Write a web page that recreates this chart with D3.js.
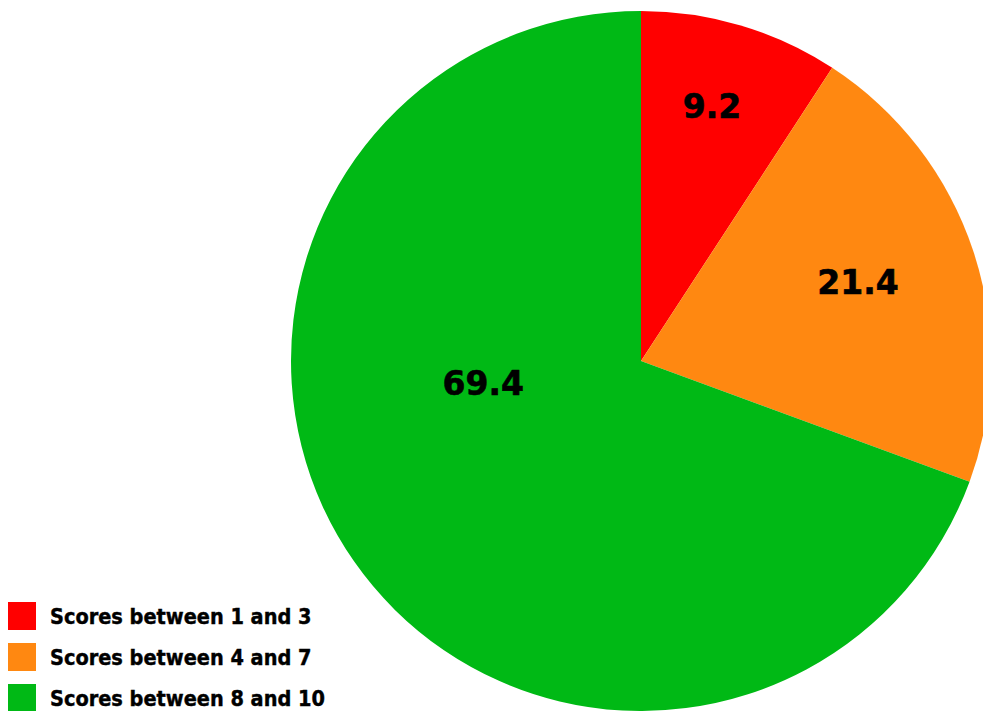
<!DOCTYPE html>
<html>
<head>
<meta charset="utf-8">
<script src="https://cdn.jsdelivr.net/npm/d3@7/dist/d3.min.js"></script>
<style>
  html, body { margin: 0; padding: 0; background: #fff; overflow: hidden; }
  svg { display: block; }
</style>
</head>
<body>
<script>
// Share of scores per band (percent)
const categories = ["Scores between 1 and 3", "Scores between 4 and 7", "Scores between 8 and 10"];
const values = [9.2, 21.4, 69.4];
const colors = ["#FF0000", "#FF8811", "#00B915"];

// Layout
const W = 983, H = 711;
const cx = 641, cy = 361, R = 350;
// Label anchors as fractions of the radius, relative to the pie centre
const labelAnchors = [[0.203, -0.73], [0.62, -0.225], [-0.451, 0.063]];

const svg = d3.select("body").append("svg")
  .attr("width", W).attr("height", H);

const pie = d3.pie().sort(null).value(d => d.value);
const arc = d3.arc().innerRadius(0).outerRadius(R);

const data = categories.map((c, i) => ({ name: c, value: values[i], color: colors[i] }));
const arcs = pie(data);

const g = svg.append("g").attr("transform", `translate(${cx},${cy})`);

g.selectAll("path.slice")
  .data(arcs)
  .join("path")
  .attr("class", "slice")
  .attr("d", arc)
  .attr("fill", d => d.data.color);

g.selectAll("text.val")
  .data(arcs)
  .join("text")
  .attr("class", "val")
  .attr("x", (d, i) => labelAnchors[i][0] * R)
  .attr("y", (d, i) => labelAnchors[i][1] * R + 12)
  .attr("text-anchor", "middle")
  .style("font-family", "'DejaVu Sans', Verdana, sans-serif")
  .style("font-weight", "bold")
  .style("font-size", "33px")
  .attr("fill", "#000")
  .attr("stroke", "#000")
  .attr("stroke-width", 0.6)
  .text(d => d3.format(".1f")(d.data.value));

// Legend
const legend = svg.append("g").attr("transform", "translate(8,602)");
const item = legend.selectAll("g.item")
  .data(data)
  .join("g")
  .attr("class", "item")
  .attr("transform", (d, i) => `translate(0,${i * 41})`);

item.append("rect")
  .attr("width", 28).attr("height", 28)
  .attr("fill", d => d.color);

item.append("text")
  .attr("x", 42)
  .attr("y", 21.5)
  .style("font-family", "'DejaVu Sans Condensed', 'DejaVu Sans', sans-serif")
  .style("font-stretch", "condensed")
  .style("font-weight", "bold")
  .style("font-size", "21.5px")
  .attr("fill", "#000")
  .attr("stroke", "#000")
  .attr("stroke-width", 0.4)
  .text(d => d.name);
</script>
</body>
</html>
